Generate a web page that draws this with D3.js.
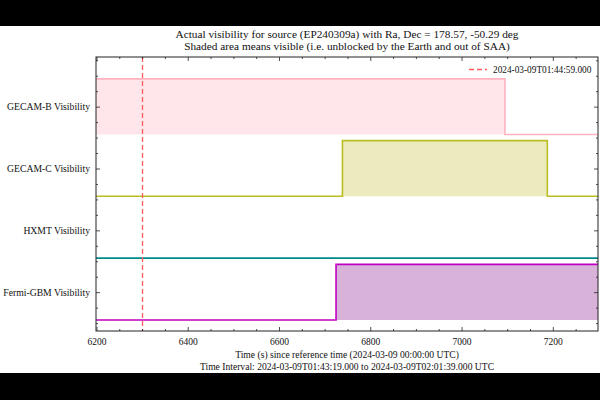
<!DOCTYPE html>
<html><head><meta charset="utf-8">
<script src="https://cdn.jsdelivr.net/npm/d3@7"></script>
<style>body{margin:0;background:#fff}svg{display:block}text{font-family:"Liberation Serif","DejaVu Serif",serif;fill:#111}</style>
</head><body><svg id="c" width="600" height="400"></svg>
<script>
// ---- data ----
const instruments = ["GECAM-B Visibility", "GECAM-C Visibility", "HXMT Visibility", "Fermi-GBM Visibility"];
const offsets = [3, 2, 1, 0];
const gecamBTimes = [6199, 7095, 7299];
const gecamBVis   = [1, 0, 0];
const gecamCTimes = [6199, 6739, 7188, 7299];
const gecamCVis   = [0, 1, 0, 0];
const hxmtTimes   = [6199, 7299];
const hxmtVis     = [0, 0];
const fermiTimes  = [6199, 6725, 7299];
const fermiVis    = [0, 1, 1];
const eventTime = 6299;
const eventLabel = "2024-03-09T01:44:59.000";
const xTicks = [6200, 6400, 6600, 6800, 7000, 7200];
const xDomain = [6199, 7299];
const titleLines = ["Actual visibility for source (EP240309a) with Ra, Dec = 178.57, -50.29 deg",
                    "Shaded area means visible (i.e. unblocked by the Earth and out of SAA)"];
const xLabelLines = ["Time (s) since reference time (2024-03-09 00:00:00 UTC)",
                     "Time Interval: 2024-03-09T01:43:19.000 to 2024-03-09T02:01:39.000 UTC"];

const series = [
  {t: gecamBTimes, v: gecamBVis, line: "#ffb3c0", fill: "#ffe6eb"},
  {t: gecamCTimes, v: gecamCVis, line: "#bcbd22", fill: "#ebebbd"},
  {t: hxmtTimes,   v: hxmtVis,   line: "#008b8b", fill: "#b3dcdc"},
  {t: fermiTimes,  v: fermiVis,  line: "#c000c0", fill: "#d9b2d9"}
];
const level = 0.9;

// ---- layout ----
const svg = d3.select("#c");
svg.append("rect").attr("width",600).attr("height",400).attr("fill","#fff");
svg.append("rect").attr("width",600).attr("height",26).attr("fill","#000");
svg.append("rect").attr("y",373).attr("width",600).attr("height",27).attr("fill","#000");

const L = 96, R = 598, T = 57, B = 331;
const x = d3.scaleLinear().domain(xDomain).range([L, R]);
const y = d3.scaleLinear().domain([-0.178, 4.253]).range([B, T]);

const g = svg.append("g");
svg.append("clipPath").attr("id","pc").append("rect")
  .attr("x",L).attr("y",T).attr("width",R-L).attr("height",B-T);
const plot = g.append("g").attr("clip-path","url(#pc)");

series.forEach((s, i) => {
  const off = offsets[i];
  const pts = s.t.map((t, k) => ({t, v: s.v[k]}));
  const area = d3.area().curve(d3.curveStepAfter)
    .x(d => x(d.t)).y0(y(off)).y1(d => y(off + d.v * level));
  plot.append("path").datum(pts).attr("d", area).attr("fill", s.fill).attr("stroke","none");
  const line = d3.line().curve(d3.curveStepAfter)
    .x(d => x(d.t)).y(d => y(off + d.v * level));
  plot.append("path").datum(pts).attr("d", line).attr("fill","none")
    .attr("stroke", s.line).attr("stroke-width", 1.6);
});

// event line
const ex = Math.round(x(eventTime)) + 0.5;
plot.append("line").attr("x1", ex).attr("x2", ex)
  .attr("y1", T).attr("y2", B).attr("stroke", "#ff5a5a").attr("stroke-width", 1.3)
  .attr("stroke-dasharray", "5,3");

// axes (ticks inward, all sides)
const xMinor = d3.range(6200, 7300, 50).filter(v => !xTicks.includes(v));
const yMajor = offsets.map(o => o + level / 2);
const yMinor = d3.range(-0.05, 4.25, 0.25).filter(v => !yMajor.some(m => Math.abs(m - v) < 1e-6));

const axB = d3.axisBottom(x).tickValues(xTicks).tickSizeInner(-4).tickSizeOuter(0).tickPadding(7).tickFormat(d3.format("d"));
svg.append("g").attr("class","xax").attr("transform", `translate(0,${B})`).call(axB);
const axBm = d3.axisBottom(x).tickValues(xMinor).tickSizeInner(-2).tickSizeOuter(0).tickFormat("");
svg.append("g").attr("transform", `translate(0,${B})`).call(axBm);
const axT = d3.axisTop(x).tickValues(xTicks).tickSizeInner(-4).tickSizeOuter(0).tickFormat("");
svg.append("g").attr("transform", `translate(0,${T})`).call(axT);
const axTm = d3.axisTop(x).tickValues(xMinor).tickSizeInner(-2).tickSizeOuter(0).tickFormat("");
svg.append("g").attr("transform", `translate(0,${T})`).call(axTm);

const axL = d3.axisLeft(y).tickValues(yMajor).tickSizeInner(-4).tickSizeOuter(0).tickPadding(6)
  .tickFormat((d, i) => instruments[i]);
svg.append("g").attr("class","yax").attr("transform", `translate(${L},0)`).call(axL);
const axLm = d3.axisLeft(y).tickValues(yMinor).tickSizeInner(-2).tickSizeOuter(0).tickFormat("");
svg.append("g").attr("transform", `translate(${L},0)`).call(axLm);
const axR = d3.axisRight(y).tickValues(yMajor).tickSizeInner(-4).tickSizeOuter(0).tickFormat("");
svg.append("g").attr("transform", `translate(${R},0)`).call(axR);
const axRm = d3.axisRight(y).tickValues(yMinor).tickSizeInner(-2).tickSizeOuter(0).tickFormat("");
svg.append("g").attr("transform", `translate(${R},0)`).call(axRm);

svg.selectAll(".domain").remove();
svg.selectAll(".tick line").attr("stroke", "#222").attr("stroke-width", 0.8);
svg.selectAll(".xax .tick text").attr("font-size", 9.5).attr("fill", "#111")
  .style("font-family", '"Liberation Serif", serif');
svg.selectAll(".yax .tick text").attr("font-size", 9.7).attr("fill", "#111")
  .style("font-family", '"Liberation Serif", serif');

svg.append("rect").attr("x", L).attr("y", T).attr("width", R - L).attr("height", B - T)
  .attr("fill", "none").attr("stroke", "#222").attr("stroke-width", 1);

// legend
svg.append("line").attr("x1", 469).attr("x2", 487).attr("y1", 69.5).attr("y2", 69.5)
  .attr("stroke", "#ff5a5a").attr("stroke-width", 1.3).attr("stroke-dasharray", "5,3");
svg.append("text").attr("x", 493).attr("y", 72.5).attr("font-size", 9.3).text(eventLabel);

// titles
const cx = (L + R) / 2;
titleLines.forEach((t, i) => svg.append("text").attr("x", cx).attr("y", 38 + i * 12)
  .attr("text-anchor", "middle").attr("font-size", 11.3).text(t));
xLabelLines.forEach((t, i) => svg.append("text").attr("x", cx).attr("y", 358 + i * 11.5)
  .attr("text-anchor", "middle").attr("font-size", 9.6).text(t));
</script></body></html>
